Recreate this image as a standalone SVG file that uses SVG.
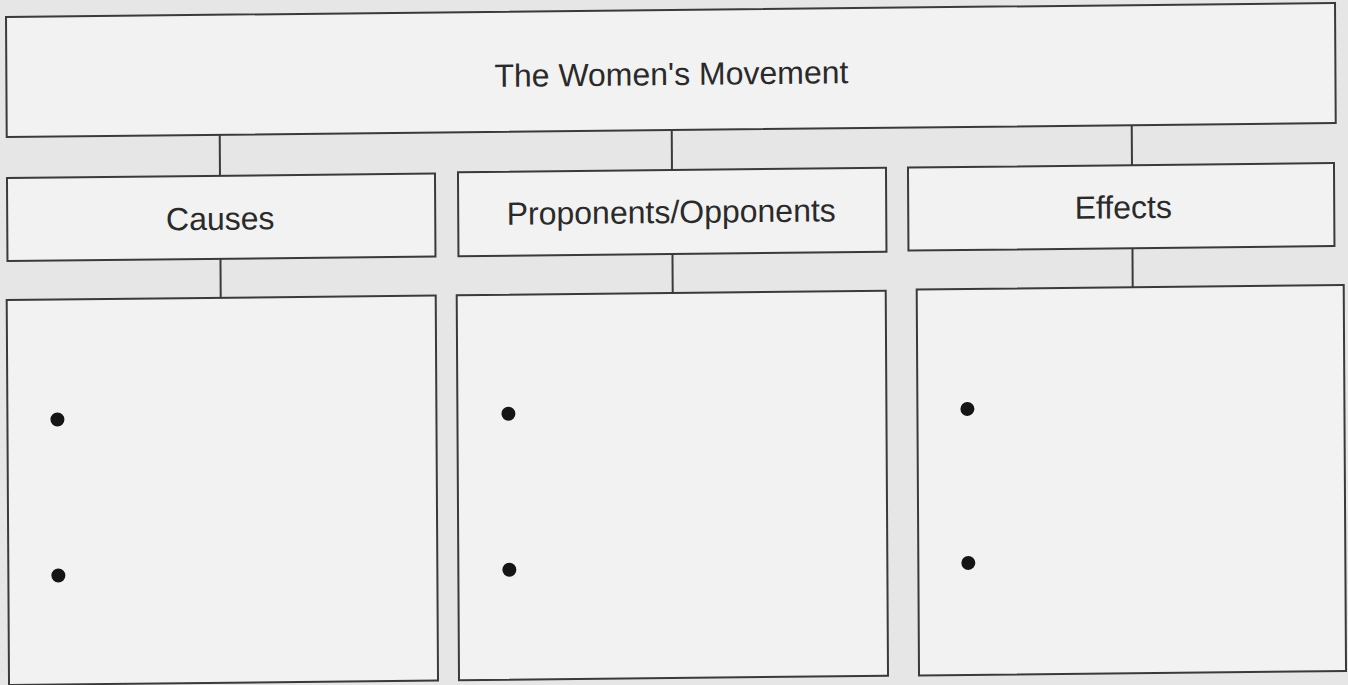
<svg xmlns="http://www.w3.org/2000/svg" width="1348" height="685" viewBox="0 0 1348 685">
  <style>
    .box { fill: #f2f2f2; stroke: #3a3a3a; stroke-width: 2; }
    .conn line { stroke: #3a3a3a; stroke-width: 2; }
    .lbl { font-family: "Liberation Sans", Arial, sans-serif; fill: #2a2a2a; text-anchor: middle; }
    .bullet { fill: #151515; }
  </style>
  <rect x="0" y="0" width="1348" height="685" fill="#e6e6e6"/>
  <g transform="matrix(1 -0.0105 0.006 1 -2.05 7.08)">
    <g id="connectors" class="conn">
      <line x1="221" y1="130" x2="221" y2="171"/>
      <line x1="673" y1="130" x2="673" y2="170"/>
      <line x1="1133" y1="130" x2="1133" y2="170"/>
      <line x1="221" y1="254" x2="221" y2="293"/>
      <line x1="673" y1="254" x2="673" y2="293"/>
      <line x1="1133" y1="253" x2="1133" y2="293"/>
    </g>
    <g id="title">
      <rect class="box" x="8" y="10" width="1329" height="120"/>
      <text class="lbl" x="673" y="85" font-size="32">The Women's Movement</text>
    </g>
    <g id="causes">
      <rect class="box" x="8" y="171" width="428" height="83"/>
      <text class="lbl" x="221" y="225" font-size="32">Causes</text>
    </g>
    <g id="proponents">
      <rect class="box" x="459" y="170" width="428" height="84"/>
      <text class="lbl" x="672" y="223" font-size="32">Proponents/Opponents</text>
    </g>
    <g id="effects">
      <rect class="box" x="909" y="170" width="426" height="83"/>
      <text class="lbl" x="1124" y="223" font-size="32">Effects</text>
    </g>
    <g id="causes-list">
      <rect class="box" x="7" y="293" width="429" height="385"/>
      <circle class="bullet" cx="57" cy="413" r="7"/>
      <circle class="bullet" cx="57" cy="569" r="7"/>
    </g>
    <g id="proponents-list">
      <rect class="box" x="457" y="293" width="429" height="385"/>
      <circle class="bullet" cx="508" cy="412" r="7"/>
      <circle class="bullet" cx="508" cy="568" r="7"/>
    </g>
    <g id="effects-list">
      <rect class="box" x="917" y="292" width="427" height="386"/>
      <circle class="bullet" cx="967" cy="412" r="7"/>
      <circle class="bullet" cx="967" cy="566" r="7"/>
    </g>
  </g>
</svg>
